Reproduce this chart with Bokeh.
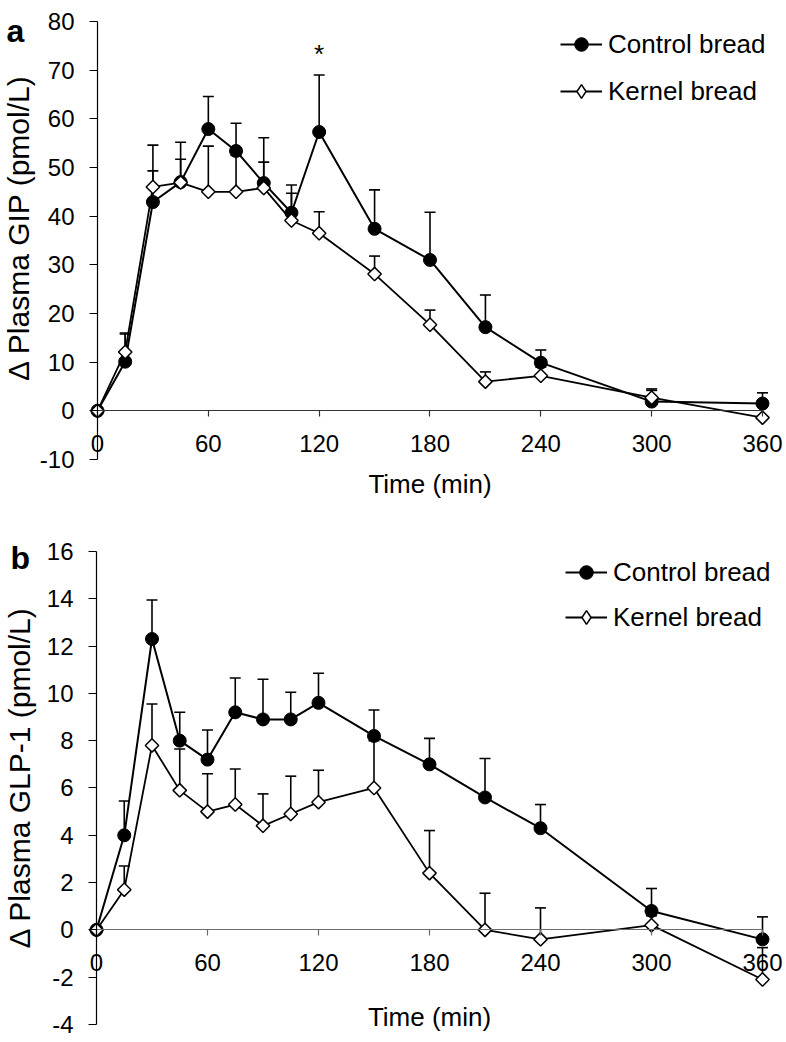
import numpy as np
from bokeh.plotting import figure
from bokeh.models import (ColumnDataSource, Whisker, TeeHead, LinearAxis, FixedTicker,
                          Legend, LegendItem, Label, Range1d, CustomJSTickFormatter)
from bokeh.layouts import column
from bokeh.embed import file_html
from bokeh.resources import INLINE

# ---------------- data ----------------
times = [0, 15, 30, 45, 60, 75, 90, 105, 120, 150, 180, 210, 240, 300, 360]

gip_control = [0, 10.1, 42.9, 47.0, 57.9, 53.4, 46.8, 40.7, 57.3, 37.4, 31.0, 17.2, 9.9, 1.9, 1.5]
gip_control_upper = [0, 15.8, 49.3, 55.2, 64.6, 59.1, 56.1, 46.4, 69.0, 45.4, 40.8, 23.8, 12.5, 4.2, 3.7]
gip_kernel = [0, 12.1, 46.0, 46.9, 45.0, 45.0, 45.8, 39.1, 36.5, 28.1, 17.7, 6.0, 7.2, 2.7, -1.4]
gip_kernel_upper = [0, 16.0, 54.6, 51.7, 54.4, 52.5, 51.1, 44.7, 40.9, 31.8, 20.7, 8.0, 9.0, 4.5, 0.8]

glp1_control = [0, 4.0, 12.3, 8.0, 7.2, 9.2, 8.9, 8.9, 9.6, 8.2, 7.0, 5.6, 4.3, 0.8, -0.4]
glp1_control_upper = [0, 5.45, 13.95, 9.2, 8.45, 10.65, 10.6, 10.05, 10.85, 9.3, 8.1, 7.25, 5.3, 1.75, 0.55]
glp1_kernel = [0, 1.7, 7.8, 5.9, 5.0, 5.3, 4.4, 4.9, 5.4, 6.0, 2.4, 0.0, -0.4, 0.2, -2.1]
glp1_kernel_upper = [0, 2.7, 9.55, 7.65, 6.6, 6.8, 5.75, 6.5, 6.75, 8.0, 4.2, 1.55, 0.93, 0.6, -0.75]

x_ticks = [0, 60, 120, 180, 240, 300, 360]
gip_y_ticks = [-10, 0, 10, 20, 30, 40, 50, 60, 70, 80]
glp1_y_ticks = [-4, -2, 0, 2, 4, 6, 8, 10, 12, 14, 16]

series_names = ["Control bread", "Kernel bread"]
gip_significant = [120]

FONT = "Liberation Sans"
W = 784
HYPHEN_FMT = "return tick.toFixed(0)"


def make_panel(letter, ylabel, ctrl, ctrl_up, kern, kern_up, y_ticks, x_range, y_range,
               height, legend_loc, legend_spacing, letter_xy, ylabel_xy, xaxis_color,
               title_standoff, stars=None):
    p = figure(width=W, height=height, title=None,
               x_range=Range1d(*x_range), y_range=Range1d(*y_range),
               x_axis_type=None, y_axis_type=None,
               output_backend="svg", toolbar_location=None,
               min_border_left=0, min_border_right=0,
               min_border_top=0, min_border_bottom=0)
    p.outline_line_color = None
    p.background_fill_color = "white"

    # axes crossing at (0, 0)
    yax = LinearAxis(fixed_location=0, ticker=FixedTicker(ticks=y_ticks),
                     bounds=(y_ticks[0], y_ticks[-1]),
                     formatter=CustomJSTickFormatter(code=HYPHEN_FMT))
    xax = LinearAxis(fixed_location=0, ticker=FixedTicker(ticks=x_ticks),
                     bounds=(x_ticks[0], x_ticks[-1]), axis_label="Time (min)",
                     formatter=CustomJSTickFormatter(code=HYPHEN_FMT))
    for ax in (yax, xax):
        ax.major_tick_in = 0
        ax.minor_tick_in = 0
        ax.minor_tick_out = 0
        ax.major_label_text_font = FONT
        ax.major_label_text_font_size = "24px"
        ax.major_label_text_color = "black"
        ax.axis_label_text_font = FONT
        ax.axis_label_text_font_style = "normal"
        ax.axis_label_text_color = "black"
        ax.axis_line_width = 1.2
        ax.major_tick_line_width = 1.2
    yax.major_tick_out = 8
    yax.major_label_standoff = 15
    yax.axis_line_color = "black"
    yax.major_tick_line_color = "black"
    xax.major_tick_out = 6
    xax.major_label_standoff = 18
    xax.axis_label_text_font_size = "26px"
    xax.axis_label_standoff = title_standoff
    xax.axis_line_color = xaxis_color
    xax.major_tick_line_color = xaxis_color
    p.add_layout(yax, "left")
    p.add_layout(xax, "below")

    # y-axis title (rotated)
    p.add_layout(Label(x=ylabel_xy[0], y=ylabel_xy[1], x_units="screen", y_units="screen",
                       text=ylabel, angle=np.pi / 2, text_font=FONT, text_font_size="30px",
                       text_align="center", text_baseline="alphabetic", text_color="black"))

    src_c = ColumnDataSource(dict(t=times, v=ctrl, u=ctrl_up))
    src_k = ColumnDataSource(dict(t=times, v=kern, u=kern_up))

    for src in (src_c, src_k):
        p.add_layout(Whisker(base="t", lower="v", upper="u", source=src,
                             line_color="black", line_width=1.6,
                             lower_head=None,
                             upper_head=TeeHead(size=11, line_color="black", line_width=1.6)))

    lc = p.line("t", "v", source=src_c, line_color="black", line_width=2)
    lk = p.line("t", "v", source=src_k, line_color="black", line_width=1.8)
    sc = p.scatter("t", "v", source=src_c, marker="circle", size=13,
                   fill_color="black", line_color="black")
    p.scatter("t", "v", source=src_k, marker="square", angle=np.pi / 4, size=9.5,
              fill_color="white", line_color="black", line_width=1.5)
    # legend key for the kernel series (legend keys are not rotated): hidden diamond renderer
    key_k = p.scatter("t", "v", source=src_k, marker="diamond", size=14,
                      fill_color="white", line_color="black", line_width=1.5,
                      visible=False)

    legend = Legend(items=[LegendItem(label=series_names[0], renderers=[lc, sc]),
                           LegendItem(label=series_names[1], renderers=[lk, key_k])],
                    location=legend_loc, orientation="vertical",
                    glyph_width=42, glyph_height=34, label_height=34,
                    label_standoff=6, spacing=legend_spacing, padding=0, margin=0,
                    border_line_color=None, background_fill_alpha=0,
                    label_text_font=FONT, label_text_font_size="26px",
                    label_text_color="black", click_policy="none")
    p.add_layout(legend)

    p.add_layout(Label(x=letter_xy[0], y=letter_xy[1], x_units="screen", y_units="screen",
                       text=letter, text_font=FONT, text_font_size="32px",
                       text_font_style="bold", text_color="black",
                       text_baseline="alphabetic"))

    if stars:
        for t in stars:
            i = times.index(t)
            p.add_layout(Label(x=t, y=ctrl_up[i], y_offset=21, text="*",
                               text_font=FONT, text_font_size="26px",
                               text_align="center", text_baseline="alphabetic",
                               text_color="black"))
    return p


pa = make_panel("a", "\u0394 Plasma GIP (pmol/L)", gip_control, gip_control_upper,
                gip_kernel, gip_kernel_upper, gip_y_ticks,
                (-52.51, 371.91), (-20.068, 84.315),
                height=508, legend_loc=(560, 400), legend_spacing=13,
                letter_xy=(6, 478), ylabel_xy=(18, 281), xaxis_color="#333333",
                title_standoff=14, stars=gip_significant)

pb = make_panel("b", "\u0394 Plasma GLP-1 (pmol/L)", glp1_control, glp1_control_upper,
                glp1_kernel, glp1_kernel_upper, glp1_y_ticks,
                (-51.89, 371.89), (-4.677, 17.818),
                height=532, legend_loc=(565, 406), legend_spacing=11,
                letter_xy=(10, 483), ylabel_xy=(19, 263), xaxis_color="#6b6b6b",
                title_standoff=28)

layout = column(pa, pb, spacing=0)
open("out.html", "w").write(file_html(layout, INLINE))
